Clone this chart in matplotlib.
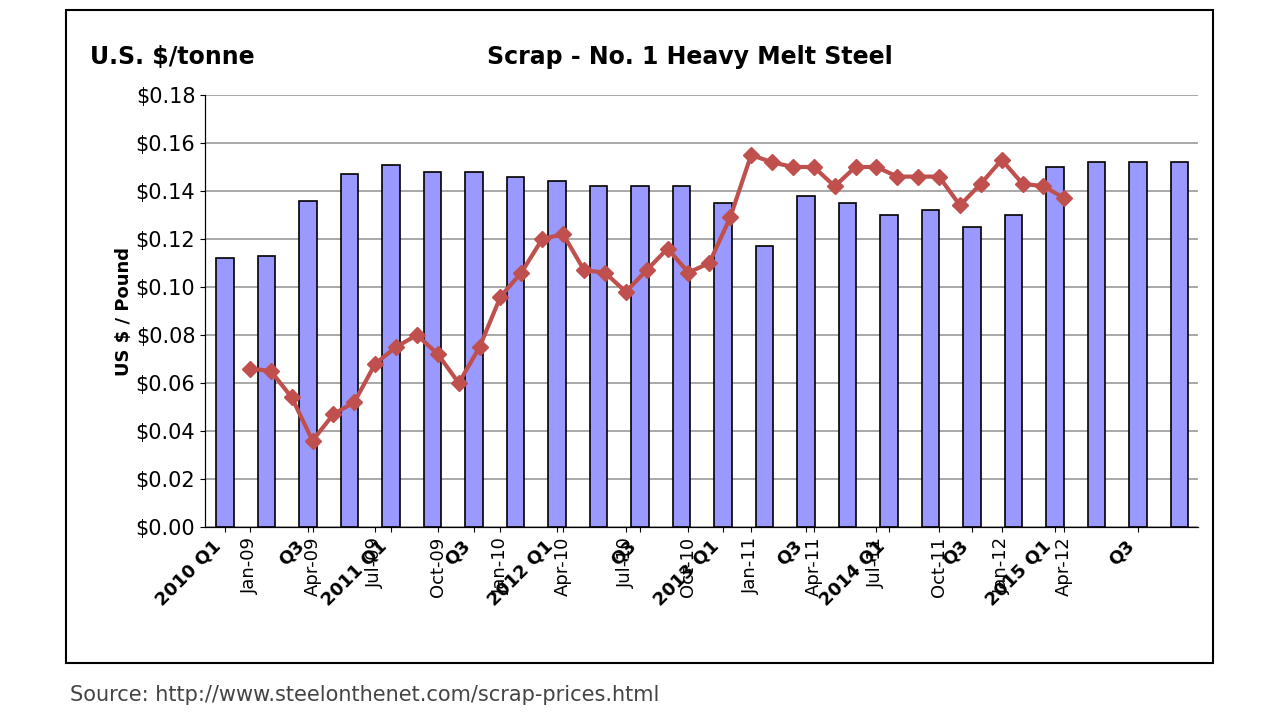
import matplotlib.pyplot as plt
import numpy as np

# monthly scrap price, US $ / pound, Jan-09 .. Apr-12
line_vals = [0.066, 0.065, 0.054, 0.036, 0.047, 0.052, 0.068, 0.075, 0.080, 0.072,
             0.060, 0.075, 0.096, 0.106, 0.120, 0.122, 0.107, 0.106, 0.098, 0.107,
             0.116, 0.106, 0.110, 0.129, 0.155, 0.152, 0.150, 0.150, 0.142, 0.150,
             0.150, 0.146, 0.146, 0.146, 0.134, 0.143, 0.153, 0.143, 0.142, 0.137]
month_labels = ["Jan-09", "Apr-09", "Jul-09", "Oct-09", "Jan-10", "Apr-10", "Jul-10",
                "Oct-10", "Jan-11", "Apr-11", "Jul-11", "Oct-11", "Jan-12", "Apr-12"]

# quarterly bars
bar_vals = [0.112, 0.113, 0.136, 0.147, 0.151, 0.148, 0.148, 0.146, 0.144, 0.142,
            0.142, 0.142, 0.135, 0.117, 0.138, 0.135, 0.130, 0.132, 0.125, 0.130,
            0.150, 0.152, 0.152, 0.152]
bar_labels = ["2010 Q1", "Q3", "2011 Q1", "Q3", "2012 Q1", "Q3", "2013 Q1", "Q3",
              "2014 Q1", "Q3", "2015 Q1", "Q3"]

fig = plt.figure(figsize=(12.8, 7.2), dpi=100)
fig.patch.set_facecolor("white")
ax = fig.add_axes([205/1280, 1-527/720, (1198-205)/1280, (527-95)/720])

x = np.arange(len(bar_vals))
ax.bar(x, bar_vals, width=0.42, color="#9999ff", edgecolor="black", linewidth=1.2, zorder=2)
ax.set_xlim(-0.48, 23.45)
ax.set_ylim(0, 0.18)
ax.set_yticks(np.arange(0, 0.181, 0.02))
ax.set_yticklabels([f"${v:.2f}" for v in np.arange(0, 0.181, 0.02)], fontsize=15)
ax.yaxis.grid(True, color="#999999", linewidth=1.2, zorder=0)
ax.set_axisbelow(True)
ax.set_xticks(x[::2])
ax.set_xticklabels(bar_labels, rotation=45, ha="right", fontsize=13, fontweight="bold")
for s in ["top", "right"]:
    ax.spines[s].set_visible(False)
ax.set_ylabel("US $ / Pound", fontsize=13, fontweight="bold", labelpad=2)

ax2 = ax.twiny()
m = np.arange(len(line_vals))
ax2.plot(m, line_vals, color="#c0504d", marker="D", markersize=8, linewidth=3, zorder=3)
ax2.set_xlim(-2.15, 45.4)
ax2.set_ylim(0, 0.18)
ax2.xaxis.set_ticks_position("bottom")
ax2.set_xticks(m[::3])
ax2.set_xticklabels(month_labels, rotation=90, fontsize=13)
for s in ["top", "right"]:
    ax2.spines[s].set_visible(False)

fig.text(90/1280, 1-57/720, "U.S. $/tonne", fontsize=17, fontweight="bold", va="center")
fig.text(690/1280, 1-57/720, "Scrap - No. 1 Heavy Melt Steel", fontsize=17,
         fontweight="bold", ha="center", va="center")
fig.text(70/1280, 1-695/720, "Source: http://www.steelonthenet.com/scrap-prices.html",
         fontsize=15, color="#444444", va="center")
fig.add_artist(plt.Rectangle((66/1280, 1-663/720), (1213-66)/1280, (663-10)/720,
                             fill=False, edgecolor="black", linewidth=1.5,
                             transform=fig.transFigure))

fig.savefig("out.png", dpi=100)
